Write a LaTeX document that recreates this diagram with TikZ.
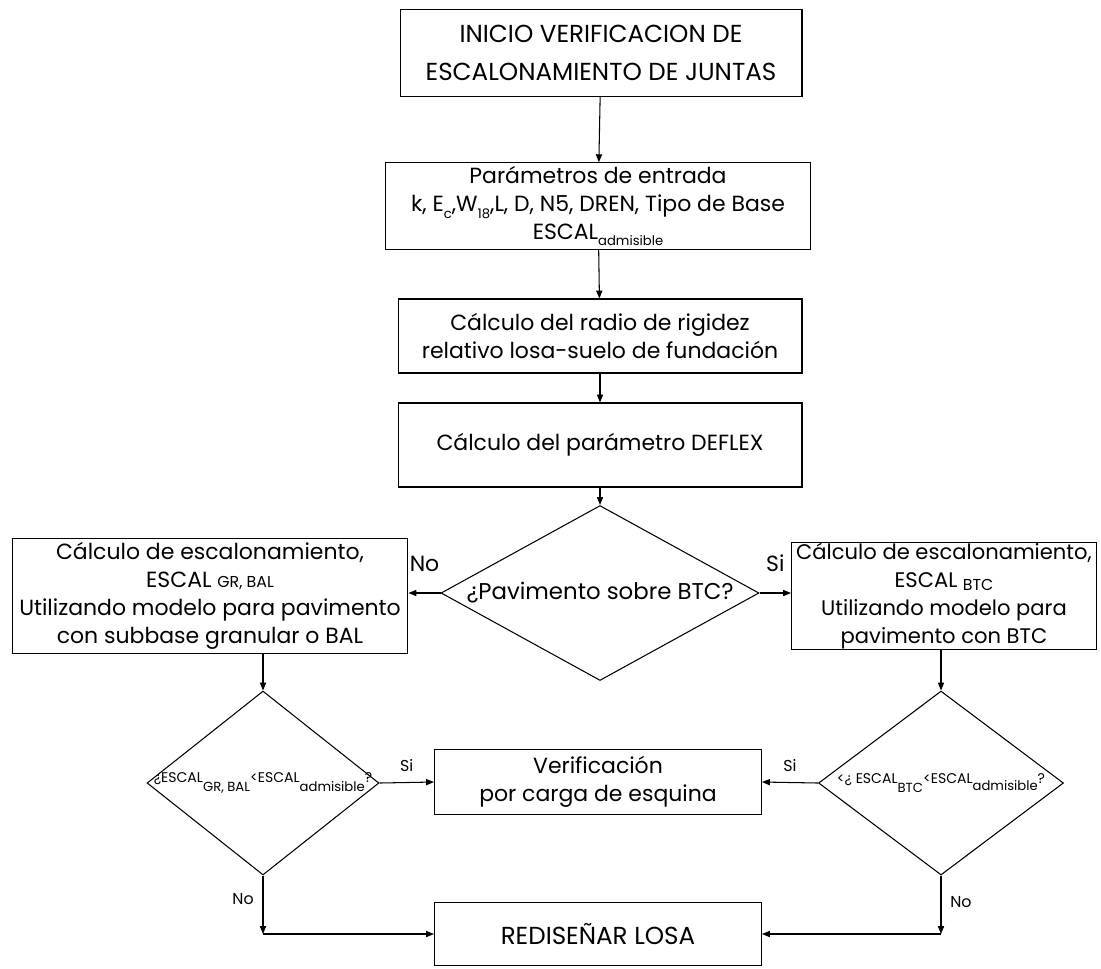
\documentclass[tikz,border=0pt]{standalone}
\usepackage{fontspec}
\setmainfont{Poppins}
\usetikzlibrary{shapes.geometric, arrows.meta}
\newcommand{\lowsub}[2][0.6ex]{\raisebox{-#1}{\fontsize{7.5}{8}\selectfont #2}}

\begin{document}
\begin{tikzpicture}[x=0.02cm, y=-0.02cm, line width=0.6pt,
    font=\fontsize{12.5}{16}\selectfont,
    box/.style={draw, rectangle, align=center, inner sep=2pt},
    capsbox/.style={box, font=\fontsize{14}{22}\selectfont},
    decision/.style={draw, diamond, inner sep=0pt},
    dtext/.style={font=\fontsize{8}{10}\selectfont, inner sep=0pt},
    flow/.style={-{Triangle[length=4.5pt, width=3.5pt]}},
    tag/.style={font=\fontsize{9}{11}\selectfont, inner sep=1pt}]
    %% page size
    \useasboundingbox (0,0) rectangle (1101,968);
    %% main column
    \node[capsbox, minimum width=8.04cm, minimum height=1.74cm] (inicio) at (601,53)
        {INICIO VERIFICACION DE\\ESCALONAMIENTO DE JUNTAS};
    \node[box, minimum width=8.52cm, minimum height=1.72cm] (param) at (598,206)
        {Parámetros de entrada\\
         k, E\lowsub{c},W\lowsub{18},L, D, N5, DREN, Tipo de Base\\
         ESCAL\lowsub[0.5ex]{admisible}};
    \node[box, minimum width=8.08cm, minimum height=1.48cm] (radio) at (600,336)
        {Cálculo del radio de rigidez\\relativo losa-suelo de fundación};
    \node[box, minimum width=8.08cm, minimum height=1.68cm] (deflex) at (600,445)
        {Cálculo del parámetro DEFLEX};
    %% first decision
    \node[decision, minimum width=6.36cm, minimum height=3.5cm,
          label={[inner sep=0pt, font=\fontsize{13}{16}\selectfont]center:¿Pavimento sobre BTC?}]
          (pav) at (600,593) {};
    %% two branches
    \node[box, minimum width=7.92cm, minimum height=2.06cm] (gr) at (210,596)
        {Cálculo de escalonamiento,\\
         ESCAL {\fontsize{9}{9}\selectfont GR, BAL}\\
         Utilizando modelo para pavimento\\
         con subbase granular o BAL};
    \node[box, inner sep=0pt, font=\fontsize{12}{16}\selectfont,
          minimum width=6.1cm, minimum height=2.06cm] (btc) at (944,596)
        {Cálculo de escalonamiento,\\
         ESCAL \lowsub[0.3ex]{\fontsize{9}{9}\selectfont BTC}\\
         Utilizando modelo para\\
         pavimento con BTC};
    %% checks against admissible value
    \node[decision, minimum width=4.64cm, minimum height=3.68cm,
          label={[dtext]center:¿ESCAL\lowsub[1.1ex]{GR, BAL}<ESCAL\lowsub[1.1ex]{admisible}?}]
          (dgr) at (263,783) {};
    \node[decision, minimum width=4.9cm, minimum height=3.68cm,
          label={[dtext]center:<¿ ESCAL\lowsub[1.1ex]{BTC}<ESCAL\lowsub[0.9ex]{admisible}?}]
          (dbtc) at (941,783) {};
    %% results
    \node[box, minimum width=6.54cm, minimum height=1.3cm] (verif) at (598,782)
        {Verificación\\por carga de esquina};
    \node[capsbox, minimum width=6.54cm, minimum height=1.26cm] (redis) at (598,934)
        {REDISEÑAR LOSA};
    \coordinate (cl) at (dgr.south |- redis.west);
    \coordinate (cr) at (dbtc.south |- redis.east);
    %% connectors
    \draw[flow] (inicio) -- (param);
    \draw[flow] (param) -- (radio);
    \draw[flow] (radio) -- (deflex);
    \draw[flow] (deflex) -- (pav);
    \draw[flow] (pav.west) -- (pav.west -| gr.east)
        node[midway, above=12pt, inner sep=0pt] {No};
    \draw[flow] (pav.east) -- (pav.east -| btc.west)
        node[midway, above=12pt, inner sep=0pt] {Si};
    \draw[flow] (gr.south -| dgr.north) -- (dgr.north);
    \draw[flow] (btc.south -| dbtc.north) -- (dbtc.north);
    \draw[flow] (dgr.east) -- (verif.west) node[tag, midway, above=5pt] {Si};
    \draw[flow] (dbtc.west) -- (verif.east) node[tag, midway, above=5pt] {Si};
    \draw[flow] (dgr.south) -- (cl) node[tag, pos=0.4, left=4pt] {No};
    \draw[flow] (dbtc.south) -- (cr) node[tag, pos=0.45, right=4pt] {No};
    \draw[flow] (cl) -- (redis.west);
    \draw[flow] (cr) -- (redis.east);
\end{tikzpicture}
\end{document}
